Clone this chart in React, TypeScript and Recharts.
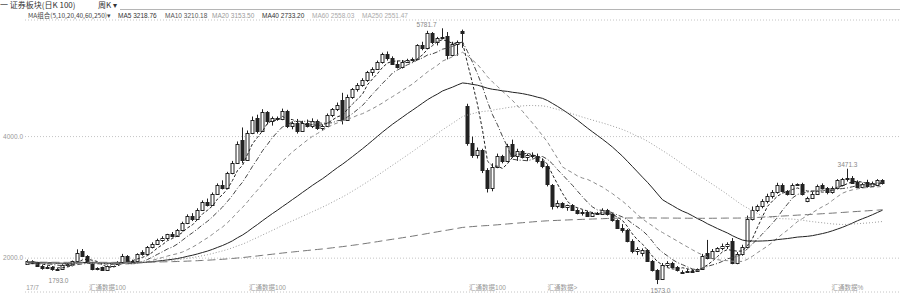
import React from "react";
import { Bar, CartesianGrid, ComposedChart, Line, ReferenceDot, XAxis, YAxis } from "recharts";

// weekly candles: [open, high, low, close]
const candles: number[][] = [
  [1910, 1975, 1895, 1950], [1950, 1965, 1900, 1920], [1920, 1935, 1855, 1870], [1870, 1890, 1810, 1840],
  [1840, 1880, 1820, 1860], [1860, 1870, 1793, 1815], [1815, 1835, 1800, 1818], [1818, 1900, 1810, 1880],
  [1880, 1920, 1860, 1905], [1905, 1960, 1890, 1945], [1960, 2145, 1930, 2090], [2110, 2150, 2020, 2040],
  [2040, 2050, 1910, 1930], [1930, 1940, 1800, 1820], [1820, 1850, 1800, 1840], [1850, 1860, 1798, 1810],
  [1810, 1880, 1805, 1870], [1870, 1920, 1860, 1910], [1910, 1950, 1895, 1930], [1930, 2070, 1920, 2040],
  [2040, 2050, 1940, 1960], [1960, 1975, 1930, 1950], [1950, 2080, 1940, 2060], [2100, 2130, 2040, 2060],
  [2060, 2200, 2050, 2180], [2180, 2260, 2160, 2240], [2240, 2320, 2220, 2300], [2300, 2360, 2270, 2330],
  [2330, 2400, 2300, 2390], [2390, 2430, 2340, 2360], [2360, 2480, 2350, 2460], [2460, 2600, 2440, 2580],
  [2580, 2720, 2560, 2700], [2700, 2740, 2610, 2640], [2640, 2820, 2630, 2800], [2800, 2950, 2780, 2920],
  [2920, 2980, 2850, 2880], [2880, 3080, 2870, 3060], [3060, 3230, 3040, 3200], [3200, 3280, 3130, 3160],
  [3160, 3420, 3150, 3400], [3400, 3600, 3380, 3570], [3570, 3920, 3550, 3880], [3950, 4150, 3560, 3620],
  [3620, 4100, 3600, 4060], [4060, 4330, 4040, 4280], [4300, 4360, 4050, 4100], [4100, 4450, 4080, 4400],
  [4400, 4420, 4200, 4250], [4250, 4330, 4180, 4300], [4300, 4330, 4260, 4290], [4290, 4460, 4270, 4420],
  [4420, 4440, 4140, 4170], [4170, 4250, 4120, 4220], [4220, 4290, 4050, 4100], [4100, 4260, 4080, 4230],
  [4230, 4280, 4150, 4180], [4180, 4300, 4140, 4260], [4260, 4280, 4110, 4140], [4140, 4200, 4100, 4170],
  [4170, 4380, 4160, 4350], [4350, 4470, 4320, 4450], [4450, 4560, 4420, 4520], [4600, 4720, 4200, 4280],
  [4280, 4690, 4260, 4650], [4650, 4800, 4620, 4780], [4780, 4880, 4740, 4850], [4850, 4960, 4820, 4930],
  [4930, 5080, 4900, 5060], [5060, 5140, 5000, 5120], [5120, 5250, 5100, 5220], [5220, 5380, 5200, 5360],
  [5360, 5400, 5250, 5290], [5290, 5320, 5180, 5200], [5200, 5250, 5120, 5150], [5150, 5260, 5120, 5230],
  [5230, 5280, 5220, 5260], [5260, 5300, 5240, 5270], [5270, 5520, 5260, 5500], [5500, 5560, 5420, 5460],
  [5460, 5740, 5450, 5700], [5700, 5720, 5520, 5550], [5550, 5640, 5500, 5620], [5620, 5781.7, 5600, 5640],
  [5660, 5720, 5270, 5340], [5340, 5560, 5320, 5520], [5520, 5580, 5330, 5560], [5740, 5760, 5460, 5700],
  [4500, 4540, 3850, 3900], [3900, 4000, 3650, 3700], [3700, 3820, 3640, 3780], [3780, 3800, 3400, 3450],
  [3450, 3480, 3080, 3150], [3150, 3560, 3100, 3500], [3500, 3720, 3480, 3680], [3680, 3700, 3560, 3600],
  [3600, 3880, 3580, 3840], [3880, 3950, 3650, 3680], [3680, 3800, 3600, 3760], [3760, 3780, 3640, 3660],
  [3660, 3720, 3600, 3700], [3700, 3740, 3640, 3680], [3680, 3720, 3560, 3600], [3600, 3640, 3480, 3520],
  [3520, 3540, 3180, 3220], [3200, 3220, 2800, 2850], [2850, 2950, 2820, 2900], [2900, 2920, 2820, 2840],
  [2840, 2880, 2780, 2870], [2870, 2890, 2780, 2800], [2800, 2820, 2720, 2740], [2740, 2790, 2700, 2760],
  [2760, 2780, 2680, 2700], [2700, 2760, 2680, 2740], [2740, 2760, 2710, 2730], [2730, 2820, 2710, 2800],
  [2800, 2810, 2700, 2720], [2720, 2740, 2600, 2620], [2620, 2640, 2480, 2500], [2500, 2560, 2420, 2460],
  [2460, 2480, 2260, 2290], [2290, 2310, 2080, 2110], [2110, 2180, 2050, 2150], [2080, 2160, 2030, 2140],
  [2140, 2150, 1940, 1960], [1960, 1970, 1780, 1800], [1800, 1820, 1573, 1660], [1660, 1920, 1640, 1880],
  [1880, 1950, 1850, 1920], [1920, 1940, 1830, 1850], [1850, 1870, 1780, 1800], [1780, 1800, 1740, 1760],
  [1790, 1820, 1760, 1795], [1795, 1820, 1770, 1790], [1790, 1830, 1780, 1815], [1820, 2070, 1810, 2040],
  [2080, 2300, 1980, 2000], [2000, 2150, 1990, 2120], [2120, 2180, 2100, 2160], [2160, 2240, 2130, 2200],
  [2200, 2260, 2150, 2230], [2290, 2330, 1900, 1920], [1920, 2100, 1900, 2060], [2060, 2220, 2040, 2180],
  [2180, 2700, 2170, 2650], [2650, 2850, 2620, 2800], [2800, 2880, 2760, 2850], [2850, 2970, 2820, 2940],
  [2940, 3060, 2900, 3020], [3020, 3120, 2980, 3090], [3090, 3240, 3060, 3200], [3200, 3230, 3080, 3100],
  [3100, 3120, 3030, 3050], [3050, 3230, 3040, 3210], [3210, 3230, 3200, 3215], [3215, 3240, 3030, 3050],
  [2940, 3010, 2920, 2990], [2990, 3090, 2980, 3060], [3060, 3210, 3050, 3180], [3200, 3230, 3130, 3150],
  [3150, 3170, 3050, 3080], [3080, 3180, 3060, 3150], [3150, 3300, 3140, 3280], [3200, 3320, 3180, 3300],
  [3300, 3471.3, 3260, 3320], [3320, 3350, 3220, 3240], [3260, 3280, 3150, 3170], [3170, 3240, 3150, 3220],
  [3260, 3290, 3160, 3180], [3180, 3260, 3170, 3240], [3200, 3300, 3190, 3280], [3280, 3300, 3210, 3230],
];

// closes before the first visible week, only used to warm up the averages (MA250 needs a long tail)
const priorCloses = [
  2010, 2030, 1990, 1970, 2000, 2040, 2060, 2030, 2010, 1980,
  1960, 1990, 2020, 2050, 2070, 2040, 2010, 1990, 1970, 1950,
  1980, 2000, 2030, 2010, 1990, 1960, 1940, 1970, 2000, 2020,
  2050, 2080, 2060, 2030, 2000, 1980, 1990, 2010, 2040, 2030,
  2000, 1970, 1950, 1930, 1960, 1990, 2010, 2000, 1980, 1960,
  1940, 1970, 2000, 2030, 2050, 2020, 1990, 1970, 1950, 1980,
  2010, 2040, 2020, 1990, 1960, 1940, 1920, 1950, 1980, 2000,
  1990, 1970, 1950, 1960, 1990, 2020, 2000, 1970, 1950, 1930,
  1950, 1980, 2000, 1980, 1960, 1940, 1920, 1900, 1930, 1950,
  1940, 1920, 1900, 1880, 1910, 1940, 1960, 1940, 1910, 1890,
  1870, 1900, 1920, 1900, 1880, 1860, 1840, 1870, 1890, 1870,
  1850, 1830, 1810, 1840, 1860, 1880, 1860, 1840, 1820, 1800,
  1780, 1810, 1830, 1850, 1830, 1810, 1790, 1770, 1800, 1820,
  1840, 1870, 1850, 1830, 1810, 1790, 1820, 1850, 1870, 1890,
  1860, 1840, 1820, 1850, 1880, 1900, 1880, 1860, 1840, 1870,
  1900, 1920, 1900, 1880, 1860, 1890, 1910, 1930, 1910, 1890,
  1870, 1890, 1910, 1940, 1960, 1940, 1920, 1900, 1880, 1910,
  1930, 1950, 1970, 1950, 1930, 1910, 1940, 1960, 1980, 1960,
  1940, 1920, 1900, 1930, 1950, 1970, 1950, 1930, 1910, 1920,
];

const maPeriods = [5, 10, 20, 40, 60, 250];
const maLatest = ["3218.76", "3210.18", "3153.50", "2733.20", "2558.03", "2551.47"];
const maColors = ["#333", "#555", "#9a9a9a", "#333", "#aaa", "#aaa"];
const maStroke = ["#222", "#444", "#8a8a8a", "#222", "#9a9a9a", "#777"];
const maDash = ["3 2", "5 2 1 2", "4 3", "", "1 2", "8 4"];
const maLeft = [118, 165, 212, 262, 312, 362];

const yTicks = [2000, 4000];
const bottomTicks = [1, 16, 48, 92, 107, 164];
const bottomLabels = ["17/7", "汇通数据100", "汇通数据100", "汇通数据100", "汇通数据>", "汇通数据%"];

// extreme price markers: bar index, value, text offset
const marks = [
  { i: 83, v: 5781.7, dx: -6, dy: -3, anchor: "end" },
  { i: 5, v: 1793, dx: 6, dy: 11, anchor: "middle" },
  { i: 126, v: 1573, dx: 3, dy: 7, anchor: "middle" },
  { i: 164, v: 3471.3, dx: 0, dy: -3, anchor: "middle" },
];

const allCloses = [...priorCloses, ...candles.map((c) => c[3])];

function movingAverage(period: number, at: number) {
  const start = Math.max(0, at - period + 1);
  const slice = allCloses.slice(start, at + 1);
  return slice.reduce((s, v) => s + v, 0) / slice.length;
}

const rows: Record<string, number>[] = candles.map(([open, high, low, close], i) => {
  const row: Record<string, number> = { i, open, high, low, close };
  maPeriods.forEach((p) => {
    row[`ma${p}`] = movingAverage(p, priorCloses.length + i);
  });
  return row;
});
// empty weeks on the right edge
for (let k = 0; k < 3; k++) rows.push({ i: candles.length + k });

function Candle(props: any) {
  const { x, y, width, height, payload } = props;
  if (payload == null || payload.open == null) return null;
  const { open, high, low, close } = payload;
  const top = Math.min(y, y + height);
  const span = Math.abs(height);
  const py = (v: number) => top + ((high - v) / (high - low || 1)) * span;
  const cx = Math.floor(x + width / 2) + 0.5;
  const up = close >= open;
  const bodyTop = Math.round(py(Math.max(open, close))) + 0.5;
  const bodyH = Math.max(1, Math.round(py(Math.min(open, close)) - bodyTop + 0.5));
  return (
    <g>
      <line x1={cx} x2={cx} y1={top} y2={bodyTop} stroke="#222" />
      <line x1={cx} x2={cx} y1={bodyTop + bodyH} y2={top + span} stroke="#222" />
      <rect x={cx - 1.5} y={bodyTop} width={3} height={bodyH} fill={up ? "#fff" : "#222"} stroke="#222" />
    </g>
  );
}

function BottomTick(props: any) {
  const { x, payload } = props;
  const k = bottomTicks.indexOf(payload.value);
  return (
    <text x={x} y={290} textAnchor="middle" fontSize={6.5} fill="#999">
      {bottomLabels[k]}
    </text>
  );
}

function markLabel(text: string, dx: number, dy: number, anchor: string) {
  return (p: any) => (
    <text x={p.viewBox.x + dx} y={p.viewBox.y + dy} textAnchor={anchor} dominantBaseline="middle" fontSize={6.5} fill="#888">
      {text}
    </text>
  );
}

export default function App() {
  return (
    <div style={{ position: "absolute", left: 0, top: 0, width: 900, height: 293, background: "#fff", fontFamily: "'Liberation Sans', 'Noto Sans CJK SC', sans-serif" }}>
      <div style={{ position: "absolute", left: 0, top: 0, fontSize: 8, lineHeight: "10px", color: "#333", fontFamily: "'Noto Sans CJK SC', sans-serif" }}>
        一 证券板块(日K 100)
      </div>
      <div style={{ position: "absolute", left: 98, top: 0, fontSize: 8, lineHeight: "10px", color: "#333", fontFamily: "'Noto Sans CJK SC', sans-serif" }}>
        周K ▾
      </div>
      <div style={{ position: "absolute", left: 120, top: 9, width: 780, height: 1, background: "#b5b5b5" }} />
      <div style={{ position: "absolute", left: 28, top: 11, fontSize: 6.5, lineHeight: "9px", color: "#444", fontFamily: "'Noto Sans CJK SC', sans-serif" }}>
        MA组合(5,10,20,40,60,250)▾
      </div>
      {maPeriods.map((p, k) => (
        <div key={p} style={{ position: "absolute", left: maLeft[k], top: 11, fontSize: 6.5, lineHeight: "9px", color: maColors[k] }}>
          MA{p} {maLatest[k]}
        </div>
      ))}
      <ComposedChart width={900} height={293} data={rows} margin={{ top: 20, right: 0, bottom: 0, left: 0 }} style={{ position: "absolute", left: 0, top: 0 }}>
        <CartesianGrid horizontal vertical={false} stroke="#c4c4c4" strokeDasharray="1 2" />
        <XAxis dataKey="i" type="category" ticks={bottomTicks} interval={0} height={1} tickLine={false} axisLine={false} tick={<BottomTick />} />
        <YAxis
          type="number"
          domain={[1443, 5918]}
          allowDataOverflow
          ticks={yTicks}
          width={25}
          tickSize={0}
          tickMargin={2}
          tickLine={false}
          axisLine={false}
          tick={{ fontSize: 6.5, fill: "#999" }}
          tickFormatter={(v: number) => v.toFixed(1)}
        />
        {maPeriods.map((p, k) => (
          <Line
            key={p}
            dataKey={`ma${p}`}
            type="linear"
            stroke={maStroke[k]}
            strokeWidth={1}
            strokeDasharray={maDash[k] || undefined}
            dot={false}
            isAnimationActive={false}
          />
        ))}
        <Bar dataKey={(d: any) => (d.open == null ? null : [d.low, d.high])} barSize={3} shape={<Candle />} isAnimationActive={false} />
        {marks.map((m) => (
          <ReferenceDot key={m.i} x={m.i} y={m.v} r={0} fill="none" stroke="none" label={markLabel(m.v.toFixed(1), m.dx, m.dy, m.anchor)} />
        ))}
      </ComposedChart>
    </div>
  );
}
